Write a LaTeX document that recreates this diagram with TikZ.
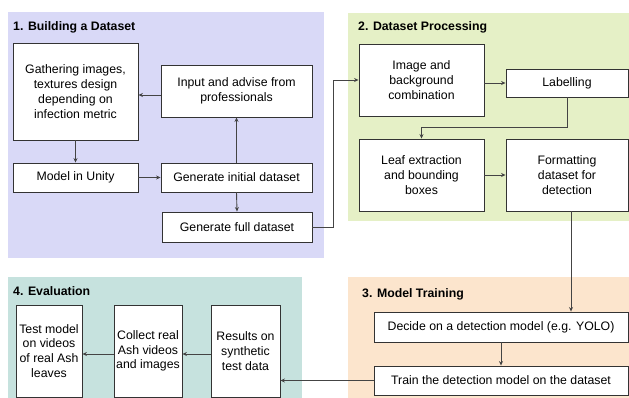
\documentclass[tikz,border=0pt]{standalone}
\usepackage{fontspec}
\setmainfont{Liberation Sans}
\usetikzlibrary{arrows.meta}
\definecolor{pone}{HTML}{D9D9F7}
\definecolor{ptwo}{HTML}{E5F0C6}
\definecolor{pthree}{HTML}{FCE5CD}
\definecolor{pfour}{HTML}{C6E2DE}
\definecolor{edge}{HTML}{333333}
\definecolor{conn}{HTML}{444444}
\tikzset{
  box/.style={draw=edge, line width=0.9pt, fill=white, align=center, inner sep=0pt,
    font=\fontsize{12.3}{14.8}\selectfont},
  arr/.style={draw=conn, line width=0.9pt, -{Stealth[length=4.5pt,width=4pt]}},
  ttl/.style={anchor=west, inner sep=0pt, font=\fontsize{12.3}{14.8}\selectfont\bfseries},
}
\begin{document}
\begin{tikzpicture}[x=1pt,y=-1pt]
\useasboundingbox (0,0) rectangle (629,398);
% panels
\fill[pone] (8,12) rectangle (324,258);
\fill[ptwo] (348,13) rectangle (629,221);
\fill[pthree] (348,277) rectangle (629,398);
\fill[pfour] (8,277) rectangle (302,398);
% titles
\node[ttl] (t1) at (13,27) {1. Building a Dataset};
\node[ttl] (t2) at (358,27) {2. Dataset Processing};
\node[ttl] (t3) at (362,294) {3. Model Training};
\node[ttl] (t4) at (13,291) {4. Evaluation};
% boxes
\node[box, minimum width=125, minimum height=97] (gather) at (75.5,91.5) {Gathering images,\\textures design\\depending on\\infection metric};
\node[box, minimum width=151, minimum height=52] (input) at (236.5,91) {Input and advise from\\professionals};
\node[box, minimum width=125, minimum height=29] (unity) at (75.5,177.5) {Model in Unity};
\node[box, minimum width=151, minimum height=29] (initial) at (236.5,177.5) {Generate initial dataset};
\node[box, minimum width=150, minimum height=30] (full) at (237,227) {Generate full dataset};
\node[box, minimum width=125, minimum height=72] (image) at (421.5,80) {Image and\\background\\combination};
\node[box, minimum width=122, minimum height=28] (label) at (567,83) {Labelling};
\node[box, minimum width=125, minimum height=72] (leaf) at (421.5,175) {Leaf extraction\\and bounding\\boxes};
\node[box, minimum width=122, minimum height=72] (format) at (567,175) {Formatting\\dataset for\\detection};
\node[box, minimum width=254, minimum height=30] (decide) at (501,327) {Decide on a detection model (e.g. YOLO)};
\node[box, minimum width=254, minimum height=29] (train) at (501,380.5) {Train the detection model on the dataset};
\node[box, minimum width=69, minimum height=92] (results) at (245.5,351) {Results on\\synthetic\\test data};
\node[box, minimum width=68, minimum height=92] (collect) at (148,351) {Collect real\\Ash videos\\and images};
\node[box, minimum width=66, minimum height=92] (test) at (49,351) {Test model\\on videos\\of real Ash\\leaves};
% connectors
\draw[arr] (input.west |- 0,95) -- (gather.east |- 0,95);
\draw[arr] (gather.south) -- (unity.north);
\draw[arr] (unity.east) -- (initial.west);
\draw[arr] (initial.north) -- (input.south);
\draw[arr] (initial.south) -- (full.north);
\draw[arr] (full.east) -- ++(21,0) |- (image.west);
\draw[arr] (image.east |- label.west) -- (label.west);
\draw[arr] (label.south) -- (label.south |- 0,127) -| (leaf.north);
\draw[arr] (leaf.east) -- (format.west);
\draw[arr] ([xshift=4pt]format.south) -- ([xshift=4pt]format.south |- decide.north);
\draw[arr] (decide.south) -- (train.north);
\draw[arr] (train.west) -- (results.east |- train.west);
\draw[arr] (results.west |- 0,354) -- (collect.east |- 0,354);
\draw[arr] (collect.west |- 0,354) -- (test.east |- 0,354);
\end{tikzpicture}
\end{document}
